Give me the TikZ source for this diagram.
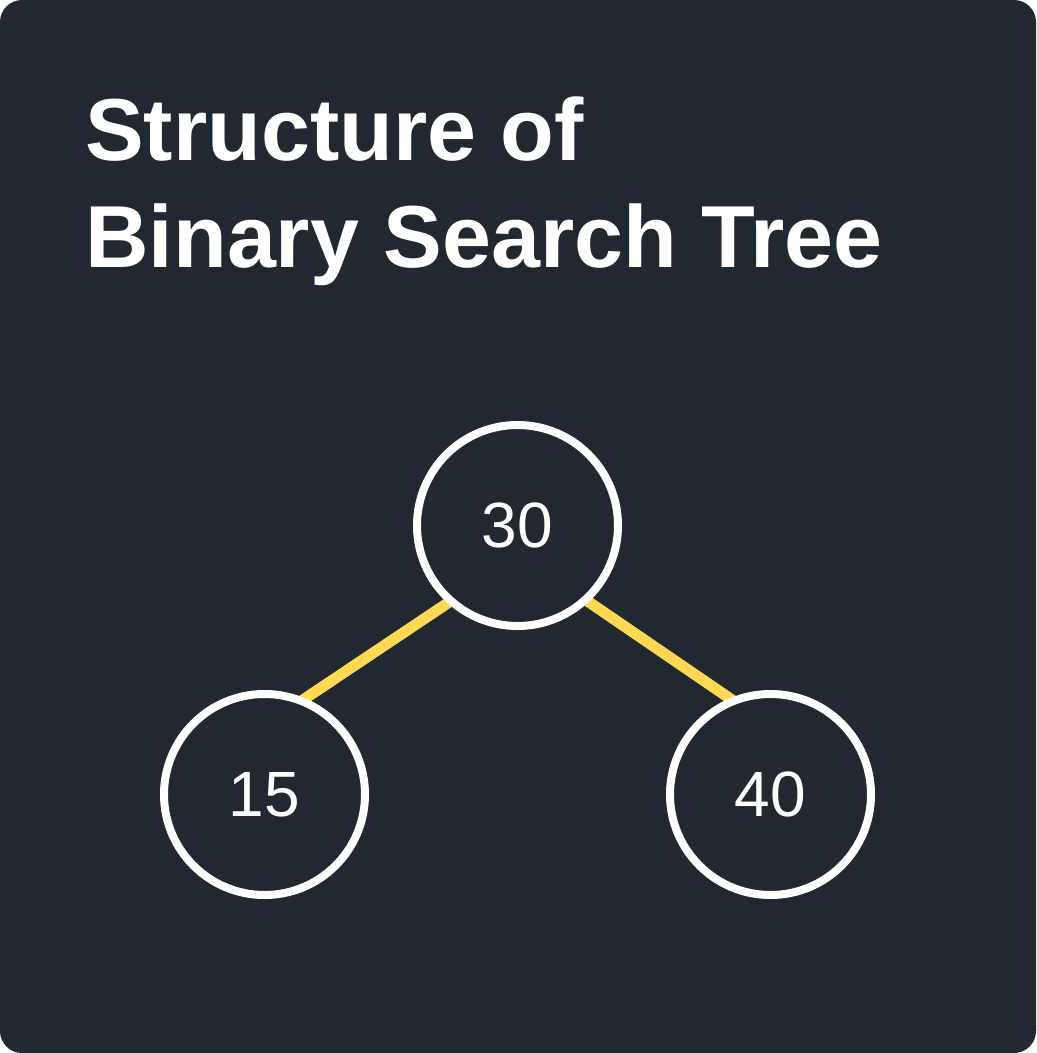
\documentclass[tikz,border=0pt]{standalone}
\usepackage{fontspec}
\setmainfont{Liberation Sans}
\definecolor{bgdark}{RGB}{33,40,48}
\definecolor{edgeyellow}{RGB}{255,217,82}
\pgfdeclarelayer{under}
\pgfsetlayers{under,main}
\begin{document}
\begin{tikzpicture}[x=0.75pt,y=-0.75pt,
  treenode/.style={circle, draw=white, line width=6pt, fill=bgdark,
    minimum size=150.75pt, inner sep=0pt, text=white,
    font=\fontsize{48}{48}\selectfont},
  titletext/.style={anchor=base west, inner sep=0pt, text=white,
    font=\fontsize{66}{66}\selectfont\bfseries},
  treeedge/.style={draw=edgeyellow, line width=8.25pt,
    shorten <=-12pt, shorten >=-12pt}]
\useasboundingbox (0,0) rectangle (1036,1053);
\begin{pgfonlayer}{under}
\fill[bgdark, rounded corners=16.5pt] (0,0) rectangle (1036,1053);
\end{pgfonlayer}
\node[titletext] (t1) at (85,160) {Structure of};
\node[titletext] (t2) at (85,267) {Binary Search Tree};
\node[treenode] (n30) at (517.5,525.5) {30};
\node[treenode] (n15) at (264.5,794.5) {15};
\node[treenode] (n40) at (770.5,794.5) {40};
\begin{pgfonlayer}{under}
\draw[treeedge] (n30.228) -- (n15.67);
\draw[treeedge] (n30.313) -- (n40.113);
\end{pgfonlayer}
\end{tikzpicture}
\end{document}
